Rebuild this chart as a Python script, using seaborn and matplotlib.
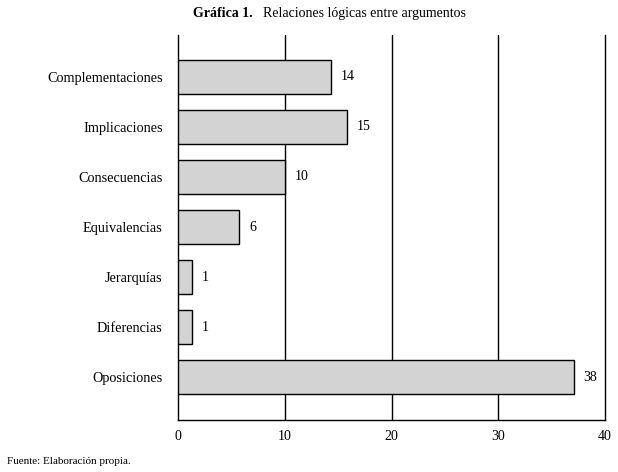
import pandas as pd
import matplotlib.pyplot as plt
import seaborn as sns

# data
categorias = ['Complementaciones', 'Implicaciones', 'Consecuencias', 'Equivalencias',
              'Jerarquías', 'Diferencias', 'Oposiciones']
etiquetas = [14, 15, 10, 6, 1, 1, 38]               # printed values
longitudes = [14.3, 15.8, 10.0, 5.75, 1.3, 1.3, 37.1]  # drawn bar lengths
ticks_x = [0, 10, 20, 30, 40]

df = pd.DataFrame({'categoria': categorias, 'valor': longitudes})

sns.set_style("white")
plt.rcParams['font.family'] = ['Liberation Serif', 'DejaVu Serif']
plt.rcParams['text.color'] = 'black'

fig = plt.figure(figsize=(6.18, 4.72), dpi=100)
ax = fig.add_axes([0.288, 0.110, 0.691, 0.816])

sns.barplot(data=df, x='valor', y='categoria', orient='h', color='#d3d3d3',
            saturation=1, edgecolor='black', linewidth=1, width=0.68, ax=ax, zorder=3)

ax.set_xlim(0, 40)
ax.set_ylim(6.86, -0.84)
ax.set_xticks(ticks_x)
ax.set_xticklabels([str(t) for t in ticks_x])
ax.tick_params(axis='x', length=0, pad=7, labelsize=10, labelcolor='black')
ax.tick_params(axis='y', length=0, pad=11, labelsize=10.3, labelcolor='black')
ax.set_xlabel('')
ax.set_ylabel('')

ax.grid(False)
for t in ticks_x[1:-1]:
    ax.axvline(t, color='black', linewidth=1, zorder=1)

for s in ['left', 'bottom', 'right']:
    ax.spines[s].set_visible(True)
    ax.spines[s].set_color('black')
    ax.spines[s].set_linewidth(1)
ax.spines['top'].set_visible(False)

for i, (lon, lab) in enumerate(zip(longitudes, etiquetas)):
    ax.text(lon + 0.9, i, str(lab), va='center', ha='left', fontsize=10, color='black')

# title: bold prefix + normal text
fig.text(0.409, 0.972, 'Gráfica 1.', fontsize=10, fontweight='bold', ha='right', va='center')
fig.text(0.426, 0.972, 'Relaciones lógicas entre argumentos', fontsize=10,
         ha='left', va='center')

fig.text(0.011, 0.023, 'Fuente: Elaboración propia.', fontsize=8, ha='left', va='center')

fig.savefig('out.png', dpi=100)
